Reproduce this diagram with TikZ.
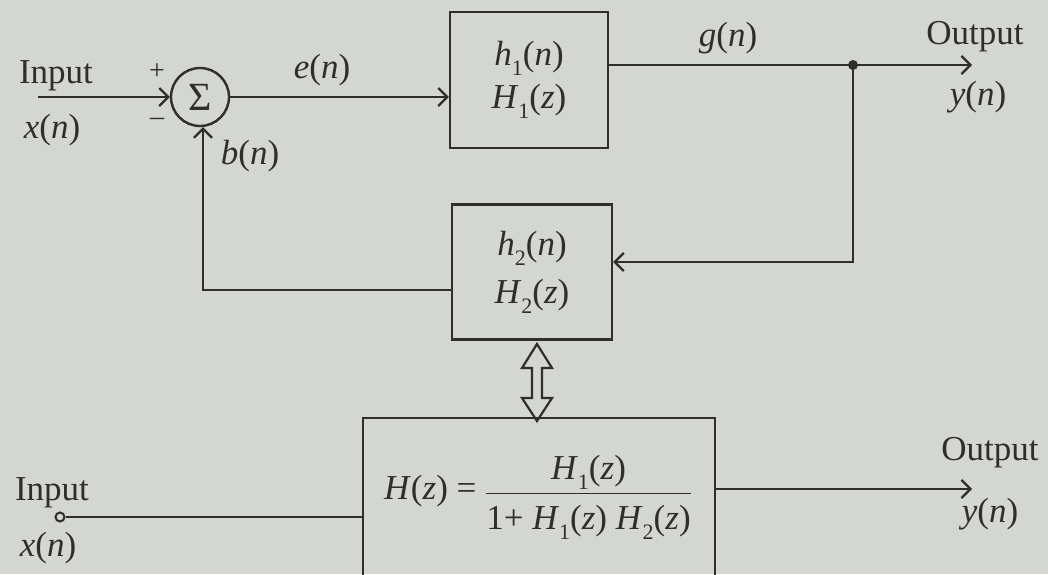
\documentclass[tikz,border=0pt]{standalone}
\usepackage{fontspec}
\setmainfont{Liberation Serif}
\usetikzlibrary{arrows.meta,calc}
\definecolor{paper}{HTML}{D4D6D2}
\definecolor{ink}{HTML}{2E2E2E}
\newcommand\vi[1]{\textit{#1}}
\newcommand\sbs[1]{\raisebox{-0.28em}{\fontsize{22}{22}\selectfont #1}}
\begin{document}
\begin{tikzpicture}[x=1pt,y=-1pt,
  every node/.style={text=ink,font=\fontsize{35}{40}\selectfont},
  line/.style={draw=ink,line width=2.4pt},
  arr/.style={line,-{Straight Barb[length=9pt,width=18pt,line width=2.2pt]}},
  blk/.style={draw=ink,line width=2.4pt,minimum width=158pt,minimum height=136pt,inner sep=0pt,align=center},
  sign/.style={font=\fontsize{28}{30}\selectfont}
]
\fill[paper] (0,0) rectangle (1048,574);
\useasboundingbox (0,0) rectangle (1048,574);
% top diagram
\node[draw=ink,line width=2.4pt,circle,minimum size=58pt,inner sep=0pt,font=\fontsize{40}{40}\selectfont] (sum) at (200,97) {Σ};
\coordinate (in1) at (38,97);
\node (lin1) at (56,76) {Input};
\node (lxn1) at (52,130) {\vi{x}(\vi{n})};
\node[sign] (plus) at (157,72) {+};
\node[sign] (minus) at (157,122) {–};
\node[blk] (b1) at (529,80) {\vi{h}\sbs{1}(\vi{n})\\[3pt]\vi{H}\sbs{1}(\vi{z})};
\node (le) at (322,70) {\vi{e}(\vi{n})};
\node (lg) at (728,38) {\vi{g}(\vi{n})};
\coordinate (jn) at (853,65);
\coordinate (out1) at (972,65);
\node (lout1) at (975,37) {Output};
\node (ly1) at (978,97) {\vi{y}(\vi{n})};
\node[blk,minimum width=160pt,minimum height=135pt] (b2) at (532,272) {\vi{h}\sbs{2}(\vi{n})\\[8pt]\vi{H}\sbs{2}(\vi{z})};
\node (lb) at (250,156) {\vi{b}(\vi{n})};
\coordinate (fbr) at (853,262);
\coordinate (fbl) at (203,290);
\draw[arr] (in1) -- (sum.west);
\draw[arr] (sum.east) -- (b1.west |- sum.east);
\draw[line] (b1.east |- jn) -- (jn);
\draw[arr] (jn) -- (out1);
\fill[ink] (jn) circle (5pt);
\draw[arr] (jn) -- (fbr) -- (b2.east |- fbr);
\draw[arr] (b2.west |- fbl) -- (fbl) -- (sum.south -| fbl);
% double arrow
\draw[draw=ink,line width=2.2pt,fill=paper,line join=miter]
  (537,344) -- (552,368) -- (542,368) -- (542,398) -- (552,398) -- (537,421)
  -- (522,398) -- (532,398) -- (532,368) -- (522,368) -- cycle;
% bottom diagram
\node[draw=ink,line width=2.4pt,minimum width=352pt,minimum height=162pt,inner sep=0pt] (b3) at (539,499) {};
\node (frac) at (538,497) {\vi{H}(\vi{z}) = $\displaystyle\frac{\rule[-0.35em]{0pt}{0pt}\mbox{\vi{H}\sbs{1}(\vi{z})}}{\rule{0pt}{1.0em}\mbox{1+ \vi{H}\sbs{1}(\vi{z}) \vi{H}\sbs{2}(\vi{z})}}$};
\node[draw=ink,line width=2pt,circle,minimum size=9pt,inner sep=0pt] (src) at (60,517) {};
\node (lin2) at (52,493) {Input};
\node (lxn2) at (48,548) {\vi{x}(\vi{n})};
\coordinate (out2) at (972,489);
\node (lout2) at (990,453) {Output};
\node (ly2) at (990,514) {\vi{y}(\vi{n})};
\draw[line] (src.east) -- (b3.west |- src.east);
\draw[arr] (b3.east |- out2) -- (out2);
\end{tikzpicture}
\end{document}
